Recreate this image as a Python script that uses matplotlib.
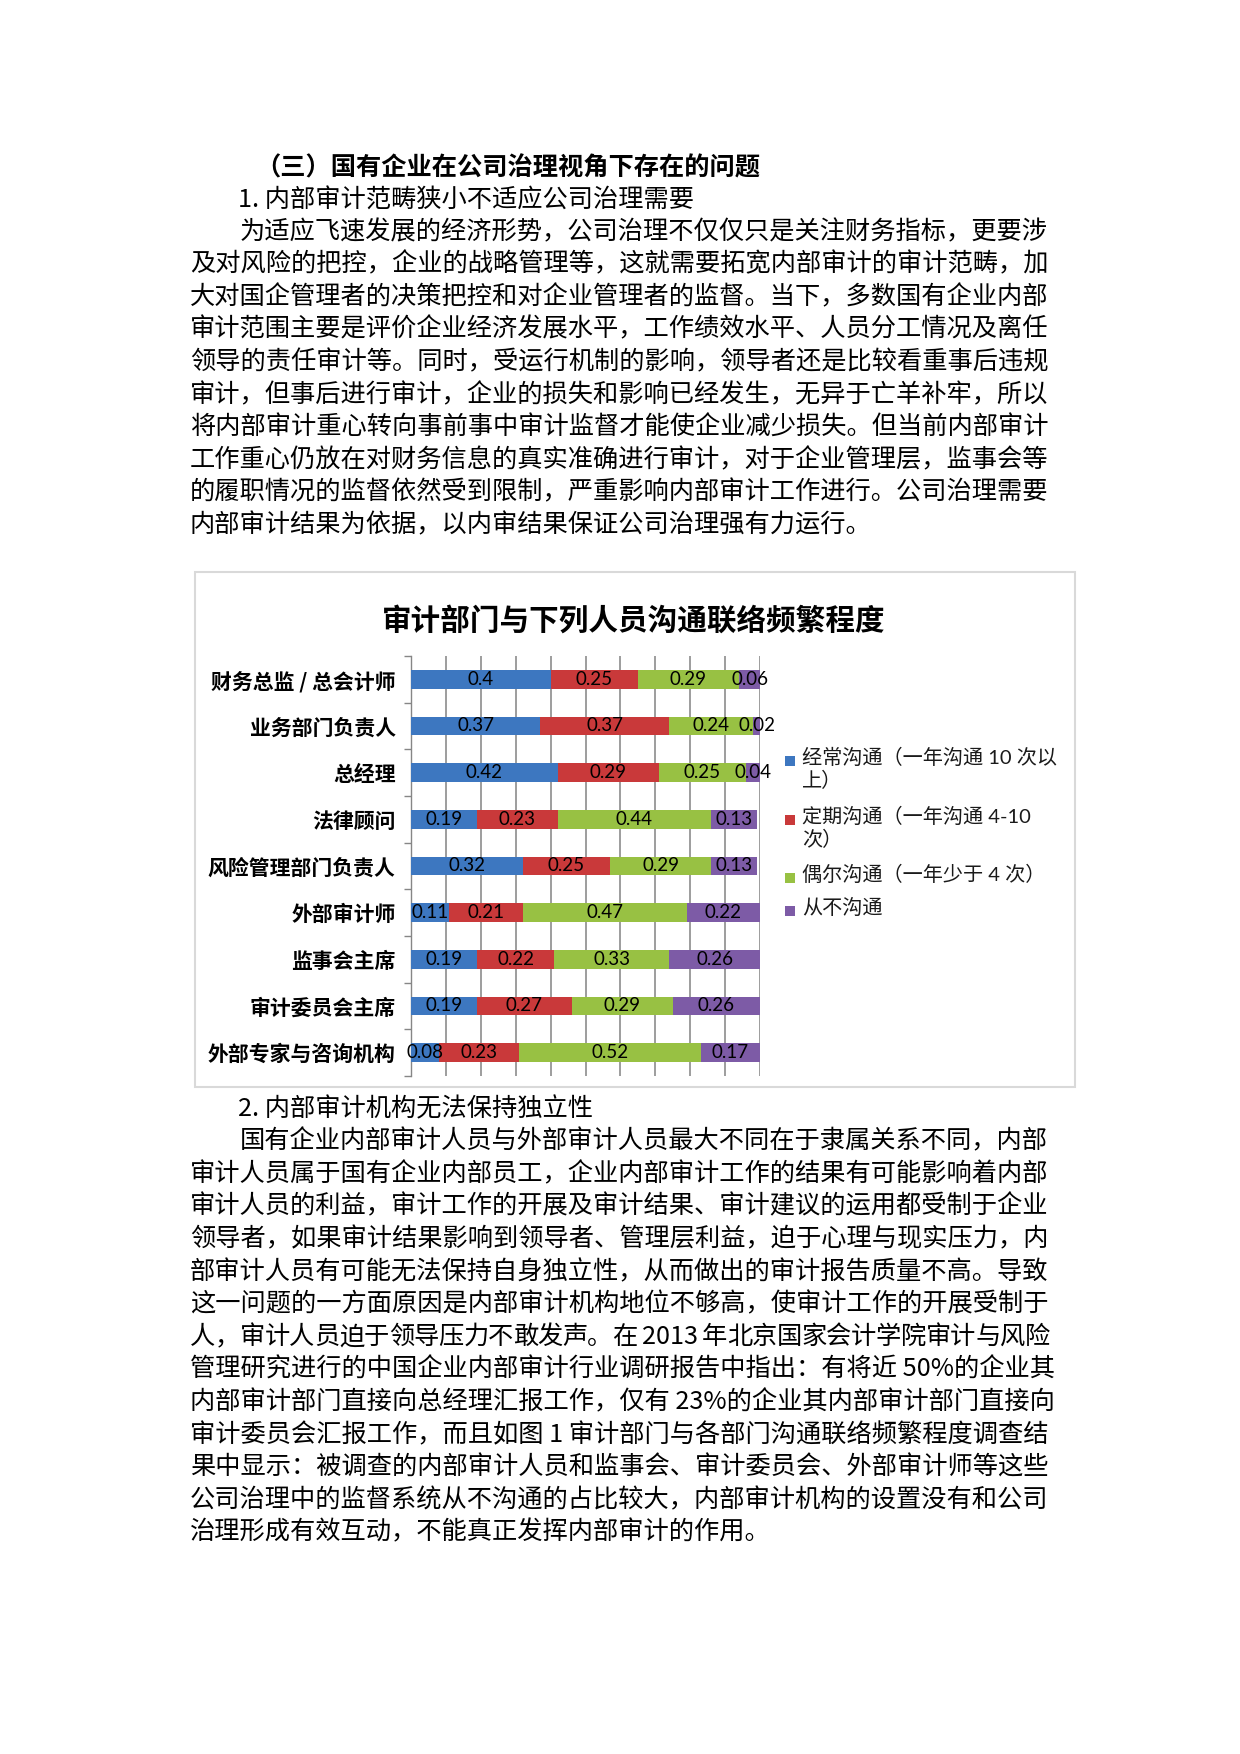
import numpy as np
import matplotlib
matplotlib.use("Agg")
import matplotlib.pyplot as plt
from matplotlib.patches import Rectangle

# --- dati del grafico ---
categorie = ['财务总监 / 总会计师', '业务部门负责人', '总经理', '法律顾问', '风险管理部门负责人',
             '外部审计师', '监事会主席', '审计委员会主席', '外部专家与咨询机构']
serie = ['经常沟通（一年沟通 10 次以\n上）', '定期沟通（一年沟通 4-10\n次）',
         '偶尔沟通（一年少于 4 次）', '从不沟通']
spesso = [0.40, 0.37, 0.42, 0.19, 0.32, 0.11, 0.19, 0.19, 0.08]
periodico = [0.25, 0.37, 0.29, 0.23, 0.25, 0.21, 0.22, 0.27, 0.23]
raro = [0.29, 0.24, 0.25, 0.44, 0.29, 0.47, 0.33, 0.29, 0.52]
mai = [0.06, 0.02, 0.04, 0.13, 0.13, 0.22, 0.26, 0.26, 0.17]
colori = ['#3D77C0', '#C9393A', '#98C143', '#7D5BA6']
titolo = '审计部门与下列人员沟通联络频繁程度'

intestazione = '（三）国有企业在公司治理视角下存在的问题'
sotto1 = '1. 内部审计范畴狭小不适应公司治理需要'
para1 = [
    '为适应飞速发展的经济形势，公司治理不仅仅只是关注财务指标，更要涉',
    '及对风险的把控，企业的战略管理等，这就需要拓宽内部审计的审计范畴，加',
    '大对国企管理者的决策把控和对企业管理者的监督。当下，多数国有企业内部',
    '审计范围主要是评价企业经济发展水平，工作绩效水平、人员分工情况及离任',
    '领导的责任审计等。同时，受运行机制的影响，领导者还是比较看重事后违规',
    '审计，但事后进行审计，企业的损失和影响已经发生，无异于亡羊补牢，所以',
    '将内部审计重心转向事前事中审计监督才能使企业减少损失。但当前内部审计',
    '工作重心仍放在对财务信息的真实准确进行审计，对于企业管理层，监事会等',
    '的履职情况的监督依然受到限制，严重影响内部审计工作进行。公司治理需要',
    '内部审计结果为依据，以内审结果保证公司治理强有力运行。',
]
sotto2 = '2. 内部审计机构无法保持独立性'
para2 = [
    '国有企业内部审计人员与外部审计人员最大不同在于隶属关系不同，内部',
    '审计人员属于国有企业内部员工，企业内部审计工作的结果有可能影响着内部',
    '审计人员的利益，审计工作的开展及审计结果、审计建议的运用都受制于企业',
    '领导者，如果审计结果影响到领导者、管理层利益，迫于心理与现实压力，内',
    '部审计人员有可能无法保持自身独立性，从而做出的审计报告质量不高。导致',
    '这一问题的一方面原因是内部审计机构地位不够高，使审计工作的开展受制于',
    '人，审计人员迫于领导压力不敢发声。在 2013 年北京国家会计学院审计与风险',
    '管理研究进行的中国企业内部审计行业调研报告中指出：有将近 50%的企业其',
    '内部审计部门直接向总经理汇报工作，仅有 23%的企业其内部审计部门直接向',
    '审计委员会汇报工作，而且如图 1 审计部门与各部门沟通联络频繁程度调查结',
    '果中显示：被调查的内部审计人员和监事会、审计委员会、外部审计师等这些',
    '公司治理中的监督系统从不沟通的占比较大，内部审计机构的设置没有和公司',
    '治理形成有效互动，不能真正发挥内部审计的作用。',
]

CJK = ['Noto Sans CJK SC', 'DejaVu Sans']
NUM = ['Lato', 'Noto Sans CJK SC']
plt.rcParams['font.family'] = CJK

W, H = 1240, 1754
fig = plt.figure(figsize=(W / 100, H / 100), dpi=100)
fig.patch.set_facecolor('white')
renderer = fig.canvas.get_renderer()

# pagina in coordinate pixel
page = fig.add_axes([0, 0, 1, 1], zorder=0)
page.set_xlim(0, W)
page.set_ylim(H, 0)
page.axis('off')

SIZE = 18.2
LH = 32.6
RIGHT = 1050


def larghezza(s):
    t = fig.text(0, 0, s, fontsize=SIZE)
    w = t.get_window_extent(renderer).width
    t.remove()
    return w


def riga_giustificata(x, y, riga, giustifica):
    # riga semplice se non serve giustificare
    if not giustifica:
        page.text(x, y, riga, fontsize=SIZE, va='center', color='black')
        return
    ws = [larghezza(c) if c != ' ' else larghezza('a a') - larghezza('aa') for c in riga]
    extra = (RIGHT - x - sum(ws)) / max(len(riga) - 1, 1)
    if abs(extra) < 0.4:
        page.text(x, y, riga, fontsize=SIZE, va='center', color='black')
        return
    cx = x
    for c, w in zip(riga, ws):
        if c != ' ':
            page.text(cx, y, c, fontsize=SIZE, va='center', color='black')
        cx += w + extra


page.text(255, 168, intestazione, fontsize=18.2, fontweight='bold', va='center', color='black')
page.text(238, 201, sotto1, fontsize=SIZE, va='center', color='black')
for i, riga in enumerate(para1):
    x = 240 if i == 0 else 190
    riga_giustificata(x, 232 + i * LH, riga, i < len(para1) - 1)

page.text(238, 1109, sotto2, fontsize=SIZE, va='center', color='black')
for i, riga in enumerate(para2):
    x = 240 if i == 0 else 190
    riga_giustificata(x, 1141.6 + i * LH, riga, i < len(para2) - 1)

# cornice del grafico
page.add_patch(Rectangle((195, 572), 880, 515, facecolor='white', edgecolor='#D9D9D9', lw=1.5))
page.text(634, 621, titolo, fontsize=21.3, fontweight='heavy', ha='center', va='center', color='black')

# legenda
leg_y = [761, 820, 878, 911]
for i, (lab, col) in enumerate(zip(serie, colori)):
    page.add_patch(Rectangle((785, leg_y[i] - 5), 10, 10, facecolor=col, edgecolor='none'))
    page.text(802, leg_y[i] - 13, lab, fontsize=14.5, family=NUM, va='top', color='#1A1A1A',
              linespacing=1.2)

# grafico a barre
x0, x1, y0, y1 = 411, 760, 656, 1076
ax = fig.add_axes([x0 / W, 1 - y1 / H, (x1 - x0) / W, (y1 - y0) / H], zorder=2)
ax.patch.set_alpha(0)
y = np.arange(len(categorie))
left = np.zeros(len(categorie))
for vals, col in zip([spesso, periodico, raro, mai], colori):
    bars = ax.barh(y, vals, left=left, height=0.4, color=col, zorder=3)
    ax.bar_label(bars, labels=[f'{v:g}' for v in vals], label_type='center',
                 fontsize=13.5, family=NUM, color='black', zorder=4)
    left += np.array(vals)

ax.set_xlim(0, 1)
ax.set_ylim(len(categorie) - 0.5, -0.5)
ax.set_xticks(np.arange(0, 1.01, 0.1))
ax.set_xticklabels([])
ax.tick_params(axis='x', length=0)
ax.grid(axis='x', color='#8C8C8C', lw=1.2, zorder=1)
ax.set_yticks(y)
ax.set_yticklabels(categorie, fontsize=15, fontweight='heavy')
ax.tick_params(axis='y', which='major', length=0, pad=11)
ax.set_yticks(np.arange(-0.5, len(categorie)), minor=True)
ax.tick_params(axis='y', which='minor', length=5, width=1, color='#868686', direction='out')
for s in ['top', 'right', 'bottom']:
    ax.spines[s].set_visible(False)
ax.spines['left'].set_color('#868686')
ax.spines['left'].set_linewidth(1.0)

fig.savefig('out.png', dpi=100, facecolor='white')
